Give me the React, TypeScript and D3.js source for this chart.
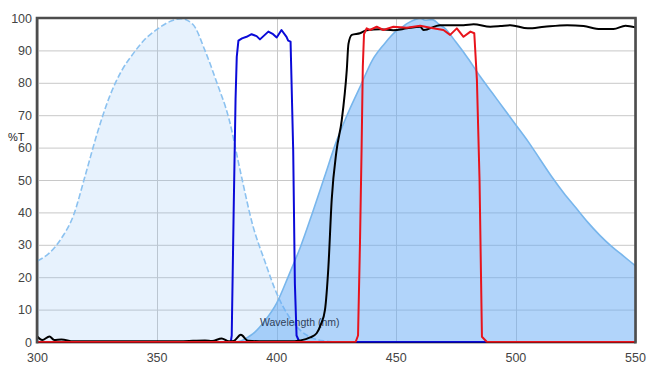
import React from "react";
import * as d3 from "d3";

const xTicks = [300, 350, 400, 450, 500, 550];
const yTicks = [0, 10, 20, 30, 40, 50, 60, 70, 80, 90, 100];

// Excitation spectrum (dashed, light fill)
const exNm = [300, 305, 310, 315, 320, 325, 330, 335, 340, 345, 350, 355, 360, 365, 370, 375, 380, 385, 390, 395, 400, 405, 410, 415, 420, 425];
const exVal = [25, 27.5, 32, 39, 51.5, 64.5, 75.5, 83.5, 89, 93.5, 96.5, 98.8, 99.8, 98, 90, 80, 69, 52, 36, 25, 15, 8, 3.5, 1.2, 0.3, 0];

// Emission spectrum (solid fill)
const emNm = [383, 385, 388, 390, 395, 400, 405, 410, 415, 420, 425, 430, 435, 440, 445, 450, 453, 455, 458, 460, 462, 465, 468, 470, 475, 480, 485, 490, 495, 500, 505, 510, 515, 520, 525, 530, 535, 540, 545, 550];
const emVal = [0, 0.3, 1.5, 2.5, 6.5, 12, 20.5, 29.5, 40, 51, 62, 71, 79, 87, 92, 96, 97.5, 98.5, 99.5, 100, 99.3, 99.5, 98, 97, 92.5, 87.5, 82, 77, 72, 67, 62, 56.5, 51, 46, 41.5, 37, 33, 29.5, 26.5, 23.5];

// Excitation filter (blue line)
const bfNm = [300, 380.8, 381.2, 382, 382.8, 383.3, 384, 385.5, 387.4, 389.5, 391.6, 393, 396.5, 398.5, 400, 402, 404.1, 404.8, 405.8, 406.9, 407.6, 408.3, 409.5, 550];
const bfVal = [0, 0, 2, 40, 75, 88, 93, 93.7, 94.2, 95, 94.4, 93.4, 95.8, 95, 94, 96.3, 94.2, 93, 92.7, 59, 18, 2, 0, 0];

// Dichroic (black line)
const dcNm = [300, 302, 305, 307, 310, 315, 320, 360, 370, 373, 377, 380, 382, 385, 388, 395, 405, 410, 414, 416.7, 418.5, 420.2, 421.6, 423, 425, 427.2, 429.3, 430, 431.4, 434.8, 437.6, 443.2, 448.8, 454.4, 460, 461.4, 468.3, 478.1, 482.3, 489.3, 493.5, 497.7, 505, 511.9, 521.4, 528.3, 535.3, 540.8, 545.8, 550];
const dcVal = [1.6, 0.6, 1.7, 0.6, 0.8, 0.2, 0.2, 0.2, 0.5, 0.3, 1.1, 0.2, 0.3, 2.2, 0.4, 0.2, 0.2, 0.5, 1.4, 2.7, 5.5, 10, 23, 44, 59, 68.5, 84, 92, 94.8, 95.3, 96.2, 96.5, 96.2, 96.8, 97.3, 96.3, 97.8, 97.8, 98.1, 97.3, 97.5, 97.8, 96.8, 97.3, 97.8, 97.5, 96.6, 96.6, 97.6, 97.1];

// Emission filter (red line)
const rfNm = [300, 433, 434, 434.8, 435.5, 436, 436.5, 437.6, 439, 441.8, 444.6, 448.8, 454.4, 460, 464.2, 469.7, 472.5, 475.3, 478.1, 481, 482.6, 483.7, 484.8, 485.8, 487.9, 550];
const rfVal = [0, 0, 2, 30, 60, 85, 95, 96.8, 96.3, 97.3, 96.3, 97.3, 97, 97.6, 97, 96.3, 94.8, 96.8, 94.2, 95.8, 95.3, 80.9, 50, 1.6, 0, 0];

const W = 656;
const H = 379;
const left = 37.5;
const right = 635.5;
const top = 18;
const bottom = 342;

export default function App() {
  const x = d3.scaleLinear().domain([300, 550]).range([left, right]);
  const y = d3.scaleLinear().domain([0, 100]).range([bottom, top]);

  const zip = (a: number[], b: number[]) => a.map((v, i) => [v, b[i]] as [number, number]);

  const area = d3
    .area<[number, number]>()
    .x((d) => x(d[0]))
    .y0(y(0))
    .y1((d) => y(d[1]))
    .curve(d3.curveMonotoneX);
  const smooth = d3
    .line<[number, number]>()
    .x((d) => x(d[0]))
    .y((d) => y(d[1]))
    .curve(d3.curveMonotoneX);
  const line = d3
    .line<[number, number]>()
    .x((d) => x(d[0]))
    .y((d) => y(d[1]));

  const ex = zip(exNm, exVal);
  const em = zip(emNm, emVal);
  const bf = zip(bfNm, bfVal);
  const dc = zip(dcNm, dcVal);
  const rf = zip(rfNm, rfVal);

  const font = "Arial, 'Liberation Sans', sans-serif";

  return (
    <svg width={W} height={H} style={{ position: "absolute", left: 0, top: 0 }}>
      <rect x={0} y={0} width={W} height={H} fill="#fff" />
      <defs>
        <clipPath id="plot">
          <rect x={left} y={top} width={right - left} height={bottom - top + 3} />
        </clipPath>
      </defs>
      {/* grid */}
      {yTicks.map((t) => (
        <line key={"gy" + t} x1={left} x2={right} y1={y(t) + 0.5} y2={y(t) + 0.5} stroke="#c8c8c8" strokeWidth={1} />
      ))}
      {xTicks.map((t) => (
        <line key={"gx" + t} x1={Math.round(x(t)) + 0.5} x2={Math.round(x(t)) + 0.5} y1={top} y2={bottom} stroke="#c8c8c8" strokeWidth={1} />
      ))}
      <g clipPath="url(#plot)">
        <path d={area(ex) || ""} fill="rgba(135,190,245,0.2)" />
        <path d={smooth(ex) || ""} fill="none" stroke="#8cc2f0" strokeWidth={1.6} strokeDasharray="6,2.5" />
        <path d={area(em) || ""} fill="rgba(100,170,245,0.5)" />
        <path d={smooth(em) || ""} fill="none" stroke="#78b6ec" strokeWidth={1.6} />
      </g>
      {/* axis title x */}
      <text x={260} y={326} fontFamily={font} fontSize={10.5} fill="#2f3f5a">
        Wavelength (nm)
      </text>
      <g clipPath="url(#plot)">
        <path d={line(bf) || ""} fill="none" stroke="#0a0ad8" strokeWidth={2} strokeLinejoin="round" />
        <path d={smooth(dc) || ""} fill="none" stroke="#000" strokeWidth={2} strokeLinejoin="round" />
        <path d={line(rf) || ""} fill="none" stroke="#e8141c" strokeWidth={2} strokeLinejoin="round" />
      </g>
      <line x1={left} x2={right} y1={bottom + 0.8} y2={bottom + 0.8} stroke="rgba(0,0,0,0.35)" strokeWidth={1.8} />
      {/* frame */}
      <path
        d={`M${left - 0.5},${bottom + 1.5}V${top}H${right}V${bottom + 1.5}`}
        fill="none"
        stroke="#4d4d4d"
        strokeWidth={2.6}
      />
      {/* tick labels */}
      {yTicks.map((t) => (
        <text key={"ty" + t} x={32} y={y(t) + 4.5} textAnchor="end" fontFamily={font} fontSize={12.5} fill="#444">
          {t}
        </text>
      ))}
      {xTicks.map((t) => (
        <text key={"tx" + t} x={x(t)} y={361.5} textAnchor="middle" fontFamily={font} fontSize={12.5} fill="#444">
          {t}
        </text>
      ))}
      <text x={8} y={141} fontFamily={font} fontSize={11} fill="#222">
        %T
      </text>
    </svg>
  );
}
